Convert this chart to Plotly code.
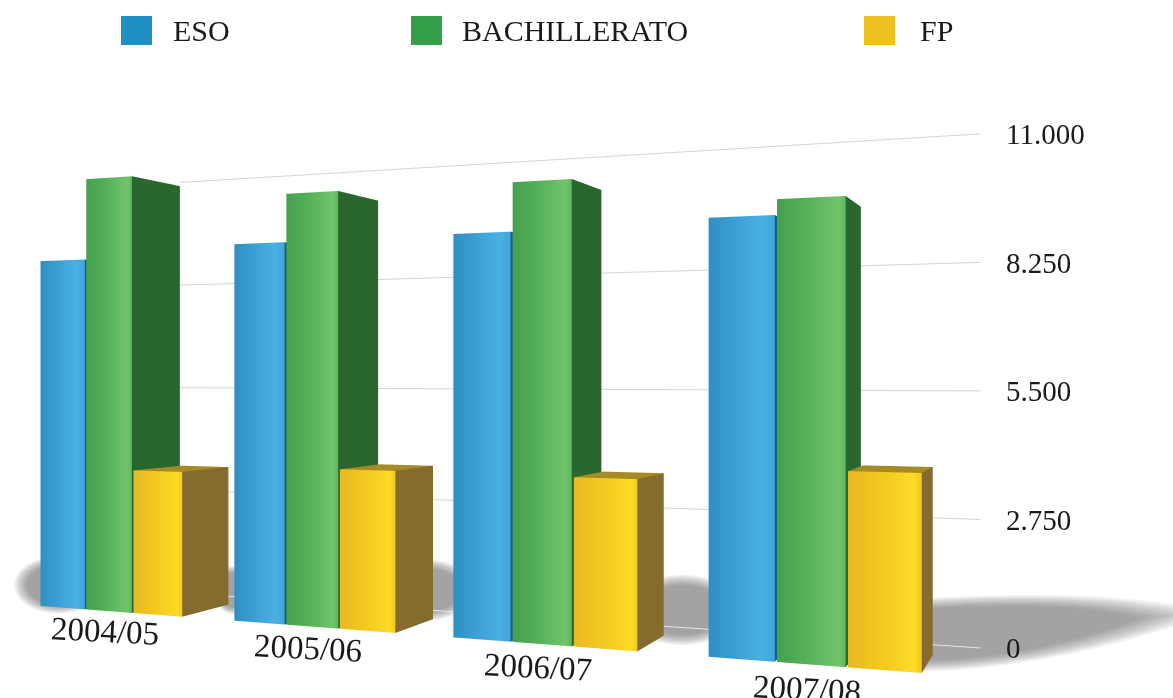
import plotly.graph_objects as go

# ---- data ----
categories = ["2004/05", "2005/06", "2006/07", "2007/08"]
eso = [8720, 8950, 8980, 9100]
bachillerato = [10720, 10080, 10060, 9420]
fp = [3500, 3670, 3640, 3920]
tick_values = [0, 2750, 5500, 8250, 11000]
tick_labels = ["0", "2.750", "5.500", "8.250", "11.000"]
series_names = ["ESO", "BACHILLERATO", "FP"]

W, H = 1173, 698
UNIT = 5841.0          # value units per scene unit of height
GROUP_START = [0.0, 0.957, 1.908, 2.875]
SLOT_W = 0.237
BAR_W = 0.229
DEPTH = 0.216
WALL_V = 0.342
WALL_U = (0.33, 3.73)
DOMAIN_TOP = 0.925     # viewport height fraction; drops the horizon without pitching the camera


def ground(u, v):
    return (-2.364 + 0.973 * u + 0.52 * v, (3.65 - 0.229 * u + 0.854 * v) * DOMAIN_TOP)


STYLE = {
    "ESO": dict(front=[("#2f8fc2", 0), ("#3a9dd2", .35), ("#49b0e4", .8), ("#3fa5da", 1)],
                side="#17628a", top="#55bdec"),
    "BACHILLERATO": dict(front=[("#46a04e", 0), ("#52b058", .4), ("#72c46c", .9), ("#5db75c", 1)],
                         side="#2a672f", top="#4f9f50"),
    "FP": dict(front=[("#e8ba22", 0), ("#f2c620", .4), ("#fbdc24", .9), ("#f3c91f", 1)],
               side="#866b2e", top="#a58a25"),
}


def box_mesh(name, values, index):
    st = STYLE[name]
    X, Y, Z, I, J, K, C = [], [], [], [], [], [], []

    def quad(p, cols):
        n = len(X)
        for (x, y, z), c in zip(p, cols):
            X.append(x); Y.append(y); Z.append(z); C.append(c)
        I.extend([n, n]); J.extend([n + 1, n + 2]); K.extend([n + 2, n + 3])

    for g, val in zip(GROUP_START, values):
        u0 = g + index * SLOT_W
        u1 = u0 + (BAR_W if index < 2 else SLOT_W)
        zt = val / UNIT
        f = st["front"]
        for (c0, t0), (c1, t1) in zip(f[:-1], f[1:]):
            a = ground(u0 + (u1 - u0) * t0, 0)
            b = ground(u0 + (u1 - u0) * t1, 0)
            quad([(a[0], a[1], 0), (b[0], b[1], 0), (b[0], b[1], zt), (a[0], a[1], zt)],
                 [c0, c1, c1, c0])
        a = ground(u1, 0)
        b = ground(u1, DEPTH)
        quad([(a[0], a[1], 0), (b[0], b[1], 0), (b[0], b[1], zt), (a[0], a[1], zt)], [st["side"]] * 4)
        p = [ground(u0, 0), ground(u1, 0), ground(u1, DEPTH), ground(u0, DEPTH)]
        quad([(q[0], q[1], zt) for q in p], [st["top"]] * 4)
    return go.Mesh3d(x=X, y=Y, z=Z, i=I, j=J, k=K, vertexcolor=C, flatshading=True, name=name,
                     showlegend=False, hoverinfo="skip",
                     lighting=dict(ambient=1, diffuse=0, specular=0, roughness=1, fresnel=0))


fig = go.Figure()

# wall gridlines
for tv in tick_values:
    a = ground(WALL_U[0], WALL_V)
    b = ground(WALL_U[1], WALL_V)
    fig.add_trace(go.Scatter3d(x=[a[0], b[0]], y=[a[1], b[1]], z=[tv / UNIT] * 2, mode="lines",
                               line=dict(color="#e4e4e4" if tv == 0 else "#d4d4d4", width=2),
                               showlegend=False, hoverinfo="skip"))

for idx, (nm, vals) in enumerate(zip(series_names, [eso, bachillerato, fp])):
    fig.add_trace(box_mesh(nm, vals, idx))

FONT = "Liberation Serif"
annos3d = []
for g, c in zip(GROUP_START, categories):
    p = ground(g + 1.5 * SLOT_W, 0)
    annos3d.append(dict(x=p[0], y=p[1], z=-0.083, text=c, showarrow=False, textangle=3, xshift=-5,
                        font=dict(family=FONT, size=33, color="#1a1a1a")))
end = ground(WALL_U[1], WALL_V)
for tv, tl in zip(tick_values, tick_labels):
    annos3d.append(dict(x=end[0], y=end[1], z=tv / UNIT, text=tl, showarrow=False, xanchor="left",
                        xshift=24, font=dict(family=FONT, size=29, color="#1a1a1a")))


def px(x):
    return x / W


def py(y):
    return 1 - y / H


# legend
legend_x = [(121, 171), (411, 460), (864, 918)]
shapes = []
annos = []
for (sx, tx), nm, col in zip(legend_x, series_names, ["#1f8fc4", "#33a04b", "#efc01f"]):
    shapes.append(dict(type="rect", xref="paper", yref="paper", x0=px(sx), x1=px(sx + 31),
                       y0=py(45), y1=py(16), fillcolor=col, line_width=0))
    annos.append(dict(xref="paper", yref="paper", x=px(tx), y=py(30), text=nm, showarrow=False,
                      xanchor="left", yanchor="middle",
                      font=dict(family=FONT, size=30, color="#1a1a1a")))


# soft floor shadows: nested low-opacity blobs
def lens(cx, cy, x0, xm, x1, ytop, ybot, s):
    f = lambda x, y: f"{px(cx + (x - cx) * s):.4f} {py(cy + (y - cy) * s):.4f}"
    return ("M " + f(x0, ytop) + " C " + f(x0 + (x1 - x0) * .35, ytop - 6) + " " + f(xm, ytop - 6) + " " + f(x1, ytop + 12)
            + " C " + f(xm, ytop + 40) + " " + f(x0 + (x1 - x0) * .35, ybot) + " " + f(x0, ybot) + " Z")


for s in [1.1, 1.06, 1.02, 0.98, 0.94, 0.9, 0.86, 0.82, 0.78]:
    shapes.append(dict(type="path", xref="paper", yref="paper", path=lens(960, 632, 915, 1120, 1190, 602, 668, s),
                       fillcolor="#404040", opacity=0.07, line_width=0, layer="below"))
    for cx, cy, rx, ry in [(682, 610, 54, 32), (425, 590, 46, 28), (58, 585, 40, 26), (232, 590, 16, 22)]:
        shapes.append(dict(type="circle", xref="paper", yref="paper",
                           x0=px(cx - rx * s), x1=px(cx + rx * s), y0=py(cy + ry * s), y1=py(cy - ry * s),
                           fillcolor="#404040", opacity=0.07, line_width=0, layer="below"))

hidden = dict(visible=False, showgrid=False, zeroline=False, showticklabels=False,
              showspikes=False, title="")
fig.update_layout(
    width=W, height=H, margin=dict(l=0, r=0, t=0, b=0), paper_bgcolor="white",
    shapes=shapes, annotations=annos, showlegend=False,
    scene=dict(
        domain=dict(x=[0, 1], y=[0, DOMAIN_TOP]),
        bgcolor="rgba(0,0,0,0)",
        xaxis=dict(range=[-3, 3], **hidden),
        yaxis=dict(range=[0, 6], **hidden),
        zaxis=dict(range=[-2, 4], **hidden),
        aspectmode="manual", aspectratio=dict(x=1, y=1, z=1),
        camera=dict(eye=dict(x=0, y=-0.5, z=0), center=dict(x=0, y=0, z=0), up=dict(x=0, y=0, z=1),
                    projection=dict(type="perspective")),
        annotations=annos3d,
    ),
)
fig.write_html("out.html", config=dict(displayModeBar=False),
               post_script="document.body.style.margin='0';document.body.style.overflow='hidden';")
